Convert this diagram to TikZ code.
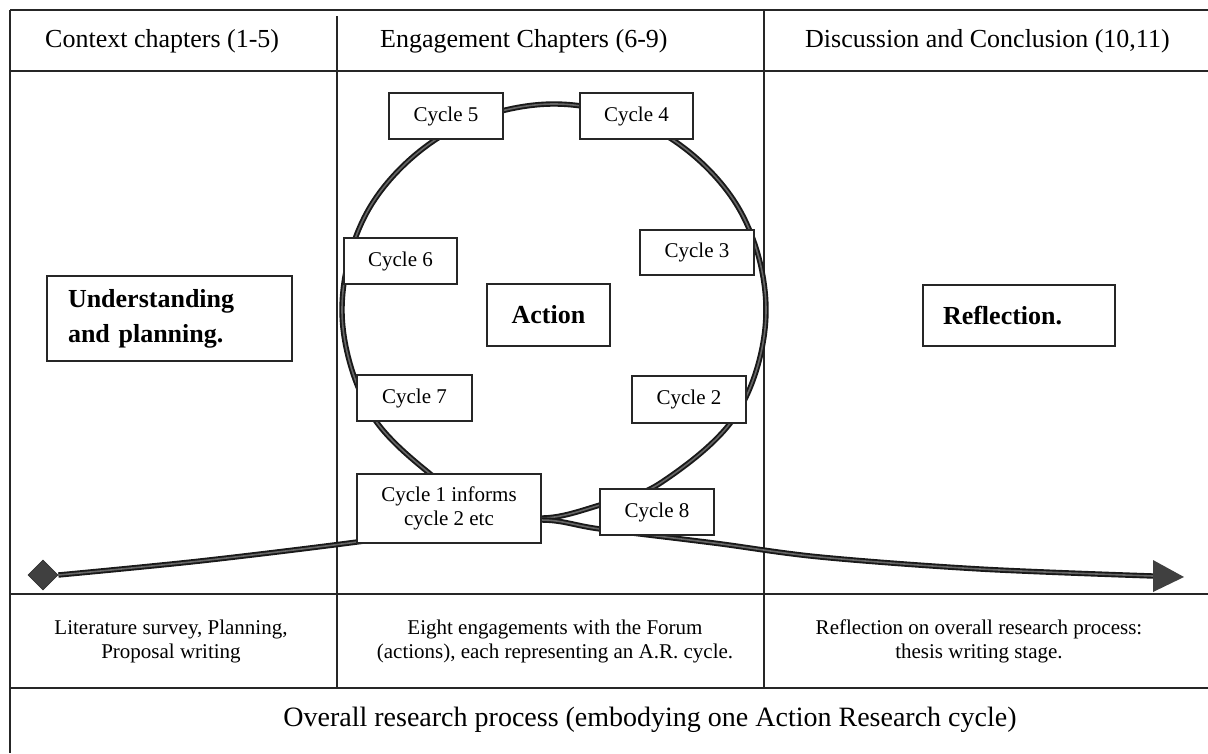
\documentclass[tikz,border=0pt]{standalone}
\usepackage{fontspec}
\setmainfont{Liberation Serif}
\usetikzlibrary{shapes.geometric,calc}
\begin{document}
\begin{tikzpicture}[x=1pt,y=-1pt,
  grid/.style={line width=1.7pt, draw=black!85},
  ringline/.style={draw=black!90, line width=1.9pt, double=black!60, double distance=1.6pt},
  cyclebox/.style={draw=black!85, fill=white, line width=1.5pt, minimum width=114pt,
    minimum height=46pt, inner sep=0pt, align=center, font=\fontsize{21}{24}\selectfont},
  bigbox/.style={draw=black!85, fill=white, line width=1.5pt, inner ysep=0pt,
    align=left, font=\fontsize{26}{35}\selectfont\bfseries},
  head/.style={anchor=west, inner sep=0pt, font=\fontsize{26}{30}\selectfont},
  note/.style={align=center, inner sep=0pt, font=\fontsize{21}{24}\selectfont},
]
\useasboundingbox (0,0) rectangle (1208,753);
\fill[white] (0,0) rectangle (1208,753);

% table rules
\draw[grid] (10,10) -- (1208,10);
\draw[grid] (10,71) -- (1208,71);
\draw[grid] (10,594) -- (1208,594);
\draw[grid] (10,688) -- (1208,688);
\draw[grid] (10,10) -- (10,753);
\draw[grid] (337,16) -- (337,688);
\draw[grid] (764,10) -- (764,688);

% column headings
\node[head] (h1) at (45,41) {Context chapters (1-5)};
\node[head] (h2) at (380,41) {Engagement Chapters (6-9)};
\node[head] (h3) at (805,41) {Discussion and Conclusion (10,11)};

% the ring of engagement cycles
\draw[ringline] plot[smooth cycle, tension=0.6] coordinates {
  (554,104) (660,132) (738,207) (766,310) (738,412) (662,482) (600,505) (541,518)
  (480,505) (440,482) (370,412) (342,310) (370,207) (448,132)};

% overall process line, from start marker to arrow head
\node[diamond, fill=black!75, draw=black!80, line width=0.8pt, minimum width=30pt,
  minimum height=30pt, inner sep=0pt] (start) at (43,575) {};
\coordinate (tipbase) at (1153,576);
\coordinate (tip) at (1184,577);
\draw[ringline] plot[smooth, tension=0.55] coordinates {(start.east) (200,561) (357,542)
  (450,528) (541,520) (600,529) (714,543) (820,557) (980,569) (tipbase)};
\fill[black!75] ($(tipbase)+(0,-16)$) -- (tip) -- ($(tipbase)+(0,16)$) -- cycle;

% cycle boxes
\node[cyclebox] (c5) at (446,116) {Cycle 5};
\node[cyclebox, minimum width=113pt] (c4) at (636.5,116) {Cycle 4};
\node[cyclebox, minimum height=45pt] (c3) at (697,252.5) {Cycle 3};
\node[cyclebox, minimum width=113pt] (c6) at (400.5,261) {Cycle 6};
\node[cyclebox, minimum width=115pt] (c7) at (414.5,398) {Cycle 7};
\node[cyclebox, minimum height=47pt] (c2) at (689,399.5) {Cycle 2};
\node[cyclebox] (c8) at (657,512) {Cycle 8};
\node[cyclebox, minimum width=184pt, minimum height=69pt] (c1) at (449,508.5)
  {Cycle 1 informs\\cycle 2 etc};

% stage boxes
\node[cyclebox, minimum width=123pt, minimum height=62pt,
  font=\fontsize{26}{30}\selectfont\bfseries] (act) at (548.5,315) {Action};
\node[bigbox, text width=203pt, inner xsep=21pt, minimum height=85pt] (und)
  at (169.5,318.5) {Understanding\\and planning.};
\node[bigbox, text width=152pt, inner xsep=20pt, minimum height=61pt] (refl)
  at (1019,315.5) {Reflection.};

% descriptions under each stage
\node[note] (n1) at (171,641) {Literature survey, Planning,\\Proposal writing};
\node[note] (n2) at (555,641) {Eight engagements with the Forum\\(actions), each representing an A.R. cycle.};
\node[note] (n3) at (979,641) {Reflection on overall research process:\\thesis writing stage.};

% overall row
\node[inner sep=0pt, font=\fontsize{28}{32}\selectfont] (ov) at (650,720)
  {Overall research process (embodying one Action Research cycle)};
\end{tikzpicture}
\end{document}
